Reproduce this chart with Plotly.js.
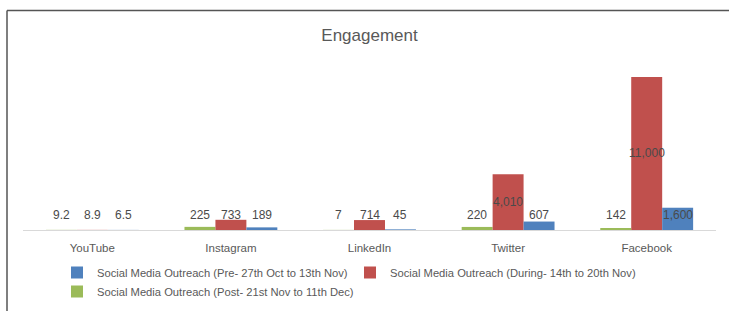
<!DOCTYPE html>
<html>
<head>
<meta charset="utf-8">
<script src="https://cdn.plot.ly/plotly-3.0.1.min.js"></script>
<style>
html,body{margin:0;padding:0;background:#ffffff;}
#chart{width:729px;height:311px;}
</style>
</head>
<body>
<div id="chart"></div>
<script>
// ---- data ----
const categories = ['YouTube', 'Instagram', 'LinkedIn', 'Twitter', 'Facebook'];
const preValues = [6.5, 189, 45, 607, 1600];        // Pre- 27th Oct to 13th Nov (blue)
const duringValues = [8.9, 733, 714, 4010, 11000];  // During- 14th to 20th Nov (red)
const postValues = [9.2, 225, 7, 220, 142];         // Post- 21st Nov to 11th Dec (green)
const preName = 'Social Media Outreach (Pre- 27th Oct to 13th Nov)';
const duringName = 'Social Media Outreach (During- 14th to 20th Nov)';
const postName = 'Social Media Outreach (Post- 21st Nov to 11th Dec)';

// ---- styling ----
const W = 729, H = 311;
const M = {l: 23, r: 13, t: 63, b: 81};
const plotW = W - M.l - M.r, plotH = H - M.t - M.b;
const bargap = 0.33;
const FONT = '"Liberation Sans", Arial, sans-serif';
const C_BLUE = '#4f81bd', C_RED = '#c0504d', C_GREEN = '#9bbb59';
const TXT = '#595959';
const yMax = 12000;
const labelFloor = 1100; // small-value labels sit at a common level

// grouped bars draw left-to-right in trace order: Post, During, Pre
const series = [
  {name: postName, values: postValues, color: C_GREEN, rank: 3, slot: -1},
  {name: duringName, values: duringValues, color: C_RED, rank: 2, slot: 0},
  {name: preName, values: preValues, color: C_BLUE, rank: 1, slot: 1}
];

const traces = series.map(s => ({
  type: 'bar',
  name: s.name,
  x: categories,
  y: s.values,
  marker: {color: s.color, line: {width: 0}},
  legendrank: s.rank,
  hoverinfo: 'skip'
}));

const barPx = plotW / categories.length * (1 - bargap) / series.length;
const fmt = v => v.toLocaleString('en-US');
const annotations = [];
series.forEach(s => {
  s.values.forEach((v, i) => {
    annotations.push({
      xref: 'x', yref: 'y',
      x: categories[i],
      y: Math.max(v / 2, labelFloor),
      xshift: s.slot * barPx,
      text: fmt(v),
      showarrow: false,
      yanchor: 'middle',
      xanchor: 'center',
      font: {family: FONT, size: 12, color: '#4a4a4a'}
    });
  });
});

// frame lines (top + left) as seen in the reference
const px2x = px => (px - M.l) / plotW;
const py2y = py => (H - M.b - py) / plotH;
const shapes = [
  {type: 'line', xref: 'paper', yref: 'paper', x0: px2x(7), x1: px2x(729), y0: py2y(10.5), y1: py2y(10.5),
   line: {color: '#555555', width: 1.5}},
  {type: 'line', xref: 'paper', yref: 'paper', x0: px2x(7), x1: px2x(7), y0: py2y(10.5), y1: py2y(311),
   line: {color: '#555555', width: 1.5}}
];

const layout = {
  width: W, height: H,
  margin: M,
  paper_bgcolor: '#ffffff',
  plot_bgcolor: '#ffffff',
  font: {family: FONT, color: TXT},
  title: {
    text: 'Engagement',
    font: {family: FONT, size: 17, color: TXT},
    xref: 'paper', x: 0.5, xanchor: 'center',
    yref: 'container', y: 1 - 35 / H, yanchor: 'middle'
  },
  barmode: 'group',
  bargap: bargap,
  bargroupgap: 0,
  xaxis: {
    type: 'category',
    showline: true, linecolor: '#d9d9d9', linewidth: 1,
    showgrid: false, zeroline: false, ticks: '',
    tickfont: {family: FONT, size: 11.5, color: TXT},
    ticklabelstandoff: 7,
    fixedrange: true
  },
  yaxis: {
    range: [0, yMax],
    showgrid: false, zeroline: false, showline: false,
    showticklabels: false, ticks: '',
    fixedrange: true
  },
  showlegend: true,
  legend: {
    orientation: 'h',
    xref: 'container', x: 57 / W, xanchor: 'left',
    yref: 'container', y: 1 - 258 / H, yanchor: 'top',
    font: {family: FONT, size: 11.2, color: TXT},
    itemwidth: 30,
    entrywidth: 248,
    bgcolor: 'rgba(0,0,0,0)',
    traceorder: 'normal'
  },
  annotations: annotations,
  shapes: shapes
};

Plotly.newPlot('chart', traces, layout, {displayModeBar: false, staticPlot: true});
</script>
</body>
</html>
